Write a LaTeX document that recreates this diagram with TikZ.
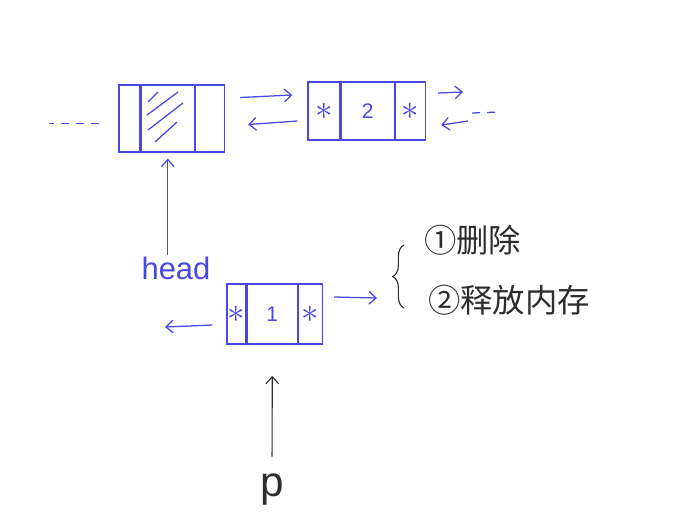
\documentclass[tikz,border=0pt]{standalone}
\usepackage{fontspec}
\setmainfont{Liberation Sans}
\newfontfamily\cjk{Noto Sans CJK SC}
\usepackage{xcolor}
\usetikzlibrary{arrows.meta,positioning,decorations.pathreplacing}
\definecolor{penblue}{RGB}{72,72,228}
\definecolor{penink}{RGB}{45,45,45}
\newcommand{\ptrmark}{{\fontsize{26}{26}\selectfont$\ast$}}

\begin{document}
\begin{tikzpicture}[
  x=0.025cm, y=-0.025cm,
  font=\fontsize{15}{17}\selectfont,
  cell/.style={draw=penblue, line width=0.9pt, text=penblue, inner sep=0pt, minimum width=#1},
  pen/.style={draw=penblue, line width=0.9pt},
  arr/.style={pen, -{Straight Barb[length=5pt,width=9pt]}},
  inkarr/.style={draw=penink, line width=0.8pt, -{Straight Barb[length=5pt,width=9pt]}},
  dotline/.style={pen, dash pattern=on 0.2cm off 0.18cm},
  handtext/.style={font=\fontsize{22}{24}\selectfont, inner sep=1pt},
  inktext/.style={text=penink, font=\cjk\fontsize{23}{26}\selectfont, anchor=west, inner sep=0pt}
]
\useasboundingbox (0,0) rectangle (696,515);

% the three list nodes: prev | data | next
\foreach \n/\x/\y/\h/\wa/\wb/\wc/\ta/\tb/\tc in {
  h/129.5/118.5/1.675cm/0.525cm/1.325cm/0.725cm/{}/{}/{},
  b/324/111/1.45cm/0.8cm/1.325cm/0.75cm/\ptrmark/2/\ptrmark,
  a/236.5/314/1.5cm/0.475cm/1.25cm/0.6cm/\ptrmark/1/\ptrmark
}{
  \node[cell=\wa, minimum height=\h] (\n1) at (\x,\y) {\ta};
  \node[cell=\wb, minimum height=\h, right=0pt of \n1] (\n2) {\tb};
  \node[cell=\wc, minimum height=\h, right=0pt of \n2] (\n3) {\tc};
}
% head node holds no data
\foreach \xa/\ya/\xb/\yb in {148/102/158/92, 147/115/178/92, 148/130/183/103, 155/142/177/122}
  \draw[pen] (\xa,\ya) -- (\xb,\yb);

\draw[dotline] ([shift={(-19,5)}]h1.west) -- ++(-50,0);
\draw[arr] ([shift={(15,-21)}]h3.east) -- ([shift={(-15,-16)}]b1.west);
\draw[arr] ([shift={(-10,10)}]b1.west) -- ([shift={(23,6)}]h3.east);

\coordinate (nxt) at (463,92);
\coordinate (nxtback) at (468,121);
\draw[arr] ([shift={(12,-18)}]b3.east) -- (nxt);
\draw[arr] (nxtback) -- ([shift={(15,14)}]b3.east);
\draw[dotline] (472,113) -- (500,112);

\node[handtext, text=penblue] (headlbl) at (176,268) {head};
\draw[arr] (h2.south |- headlbl.north) -- ([yshift=-0.15cm]h2.south);

\coordinate (prv) at (165,327);
\coordinate (brc) at (377,298);
\draw[arr] ([shift={(-14,11)}]a1.west) -- (prv);
\draw[arr] ([shift={(11,-17)}]a3.east) -- (brc);

\draw[draw=penink, line width=0.8pt, decorate, decoration={brace, amplitude=8pt}] (404,308) -- (404,245);
\node[inktext] (stepone) at (424,240) {①删除};
\node[inktext] (steptwo) at (428,300) {②释放内存};

\node[handtext, text=penink, font=\fontsize{30}{32}\selectfont] (plbl) at (272,490) {p};
\draw[inkarr, shorten <=0.4cm] (plbl.north) -- ([yshift=-0.78cm]a2.south);
\end{tikzpicture}
\end{document}
